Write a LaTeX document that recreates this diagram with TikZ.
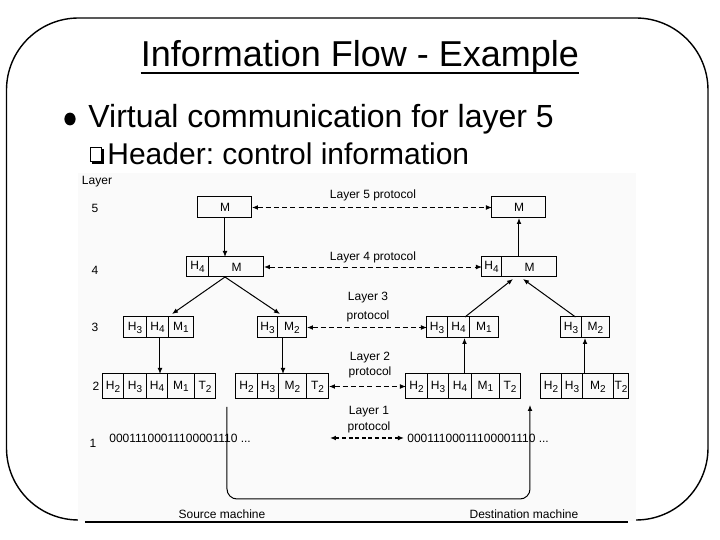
\documentclass[tikz,border=0pt]{standalone}
\usepackage{fontspec}
\setmainfont{Liberation Sans}
\usetikzlibrary{arrows.meta,positioning}
\definecolor{picbg}{HTML}{FAFAFA}
\frenchspacing

\begin{document}
\begin{tikzpicture}[
  x=0.5pt, y=-0.5pt,
  font=\fontsize{6}{7.2}\selectfont,
  flow/.style={-{Latex[length=3pt,width=2.4pt]}, line width=.5pt},
  proto/.style={{Latex[length=3pt,width=2.4pt]}-{Latex[length=3pt,width=2.4pt]}, dash pattern=on 2.5pt off 1.6pt, line width=.45pt},
  cell/.style={draw, line width=.5pt, minimum width=#1, minimum height=10.5pt, inner sep=0pt, outer sep=0pt},
  cell/.default=11pt,
  tall/.style={minimum height=12.5pt},
  lbl/.style={inner sep=0pt, align=center}
]
  \useasboundingbox (0,0) rectangle (720,540);

  % slide
  \draw[line width=.7pt, rounded corners=36pt] (6.5,18) rectangle (708,520);
  \fill[picbg] (78,173) rectangle (636,521.5);
  \node[anchor=base, inner sep=0pt, font=\fontsize{18}{21}\selectfont] (title) at (360,67) {Information Flow - Example};
  \draw[line width=.8pt] ([yshift=-3pt]title.base west) -- ([yshift=-3pt]title.base east);
  \fill (70,119) ellipse [x radius=2.8pt, y radius=3.2pt];
  \node[anchor=base west, inner sep=0pt, font=\fontsize{16}{19}\selectfont] (point) at (88,128) {Virtual communication for layer 5};
  \draw[line width=.5pt] (91,148) rectangle (101.5,161.5);
  \draw[line width=1.2pt] (92.5,162.5) -- (103,162.5) -- (103,149.5);
  \node[anchor=base west, inner sep=0pt, font=\fontsize{15}{17}\selectfont] (subpoint) at (107,165) {Header: control information};

  % layer numbers
  \node[lbl] (layer) at (97,182) {Layer};
  \node[lbl] (n5) at (95,208) {5};
  \node[lbl] (n4) at (95,270) {4};
  \node[lbl] (n3) at (95,327) {3};
  \node[lbl] (n2) at (96,386) {2};
  \node[lbl] (n1) at (93,443) {1};

  % source machine
  \node[cell=27pt] (s5M) at (225,207.5) {M};
  \node[cell=11pt, minimum height=10pt, anchor=west] (s4H) at (187,267) {H\textsubscript{4}};
  \node[cell=27.5pt, minimum height=10pt, right=0pt of s4H] (s4M) {M};
  \node[cell=11.5pt, anchor=west] (s3aH3) at (124,327.5) {H\textsubscript{3}};
  \node[cell=11pt, right=0pt of s3aH3] (s3aH4) {H\textsubscript{4}};
  \node[cell=12.5pt, right=0pt of s3aH4] (s3aM) {M\textsubscript{1}};
  \node[cell=10pt, anchor=west] (s3bH3) at (258,327.5) {H\textsubscript{3}};
  \node[cell=14.5pt, right=0pt of s3bH3] (s3bM) {M\textsubscript{2}};
  \node[cell=10.5pt, tall, anchor=west] (s2aH2) at (103,386.5) {H\textsubscript{2}};
  \node[cell=11.5pt, tall, right=0pt of s2aH2] (s2aH3) {H\textsubscript{3}};
  \node[cell=10.5pt, tall, right=0pt of s2aH3] (s2aH4) {H\textsubscript{4}};
  \node[cell=13.5pt, tall, right=0pt of s2aH4] (s2aM) {M\textsubscript{1}};
  \node[cell=10.5pt, tall, right=0pt of s2aM] (s2aT) {T\textsubscript{2}};
  \node[cell=11pt, tall, anchor=west] (s2bH2) at (236,386.5) {H\textsubscript{2}};
  \node[cell=10.5pt, tall, right=0pt of s2bH2] (s2bH3) {H\textsubscript{3}};
  \node[cell=14pt, tall, right=0pt of s2bH3] (s2bM) {M\textsubscript{2}};
  \node[cell=11pt, tall, right=0pt of s2bM] (s2bT) {T\textsubscript{2}};
  \node[lbl, anchor=west] (sbits) at (109,438) {00011100011100001110 ...};

  \draw[flow] (s5M.south) -- (s5M.south |- s4M.north);
  \coordinate (s4fork) at (s5M.south |- s4M.south);
  \draw[flow] (s4fork) -- ([xshift=1.5pt,yshift=1.5pt]s3aM.north west);
  \draw[flow] (s4fork) -- ([xshift=1pt,yshift=1.5pt]s3bM.north west);
  \draw[flow] ([xshift=1pt]s3aH4.south) -- ([xshift=1pt]s3aH4.south |- s2aH4.north);
  \draw[flow] ([xshift=2.5pt]s3bM.south west) -- ([xshift=2.5pt]s3bM.south west |- s2bM.north);

  % destination machine
  \node[cell=27pt] (d5M) at (519,207.5) {M};
  \node[cell=10pt, minimum height=10pt, anchor=west] (d4H) at (482,267) {H\textsubscript{4}};
  \node[cell=27.5pt, minimum height=10pt, right=0pt of d4H] (d4M) {M};
  \node[cell=10.5pt, anchor=west] (d3aH3) at (427,327.5) {H\textsubscript{3}};
  \node[cell=11pt, right=0pt of d3aH3] (d3aH4) {H\textsubscript{4}};
  \node[cell=14.5pt, right=0pt of d3aH4] (d3aM) {M\textsubscript{1}};
  \node[cell=10.5pt, anchor=west] (d3bH3) at (561,327.5) {H\textsubscript{3}};
  \node[cell=14pt, right=0pt of d3bH3] (d3bM) {M\textsubscript{2}};
  \node[cell=11pt, tall, anchor=west] (d2aH2) at (406,386.5) {H\textsubscript{2}};
  \node[cell=10.5pt, tall, right=0pt of d2aH2] (d2aH3) {H\textsubscript{3}};
  \node[cell=11.5pt, tall, right=0pt of d2aH3] (d2aH4) {H\textsubscript{4}};
  \node[cell=14pt, tall, right=0pt of d2aH4] (d2aM) {M\textsubscript{1}};
  \node[cell=10.5pt, tall, right=0pt of d2aM] (d2aT) {T\textsubscript{2}};
  \node[cell=10.5pt, tall, anchor=west] (d2bH2) at (541,386.5) {H\textsubscript{2}};
  \node[cell=10.5pt, tall, right=0pt of d2bH2] (d2bH3) {H\textsubscript{3}};
  \node[cell=15.5pt, tall, right=0pt of d2bH3] (d2bM) {M\textsubscript{2}};
  \node[cell=7.5pt, tall, right=0pt of d2bM] (d2bT) {T\textsubscript{2}};
  \node[lbl, anchor=west] (dbits) at (407,438) {00011100011100001110 ...};

  \draw[flow] ([xshift=2pt]d2aH4.north) -- ([xshift=2pt]d2aH4.north |- d3aH4.south);
  \draw[flow] ([xshift=1pt]d2bM.north west) -- ([xshift=1pt]d2bM.north west |- d3bM.south);
  \draw[flow] ([xshift=3pt]d3aH4.north) -- ([xshift=5.5pt,yshift=-1pt]d4M.south west);
  \draw[flow] ([xshift=2pt]d3bH3.north) -- ([xshift=10.5pt,yshift=-1pt]d4M.south west);
  \draw[flow] (d5M.south |- d4M.north) -- (d5M.south);

  % peer protocols
  \draw[proto] (s5M.east) -- (d5M.west);
  \node[lbl] (p5) at (373,195) {Layer 5 protocol};
  \draw[proto] (s4M.east) -- (d4H.west);
  \node[lbl] (p4) at (373,257) {Layer 4 protocol};
  \draw[proto] (s3bM.east) -- (d3aH3.west);
  \node[lbl] (p3) at (368,307.5) {Layer 3\\[2.3pt]protocol};
  \draw[proto] (s2bT.east) -- (d2aH2.west);
  \node[lbl] (p2) at (370,365.5) {Layer 2\\[.3pt]protocol};
  \coordinate (l1start) at (330,438);
  \draw[proto, line width=.9pt, dash pattern=on 2pt off 1.3pt] (l1start) -- ([xshift=-1.5pt]dbits.west);
  \node[lbl] (p1) at (369,420) {Layer 1\\[.8pt]protocol};

  % physical medium
  \coordinate (srcbit) at (227,407);
  \coordinate (wire) at (380,499);
  \coordinate (dstbit) at (530,405);
  \draw[flow, rounded corners=5pt] (srcbit) |- (wire) -| (dstbit);

  \coordinate (baseL) at (85,522);
  \coordinate (baseR) at (628,522);
  \draw[line width=.6pt] (baseL) -- (baseR);
  \node[lbl, anchor=base] (srcname) at (222,519) {Source machine};
  \node[lbl, anchor=base] (dstname) at (524,519) {Destination machine};
\end{tikzpicture}
\end{document}
